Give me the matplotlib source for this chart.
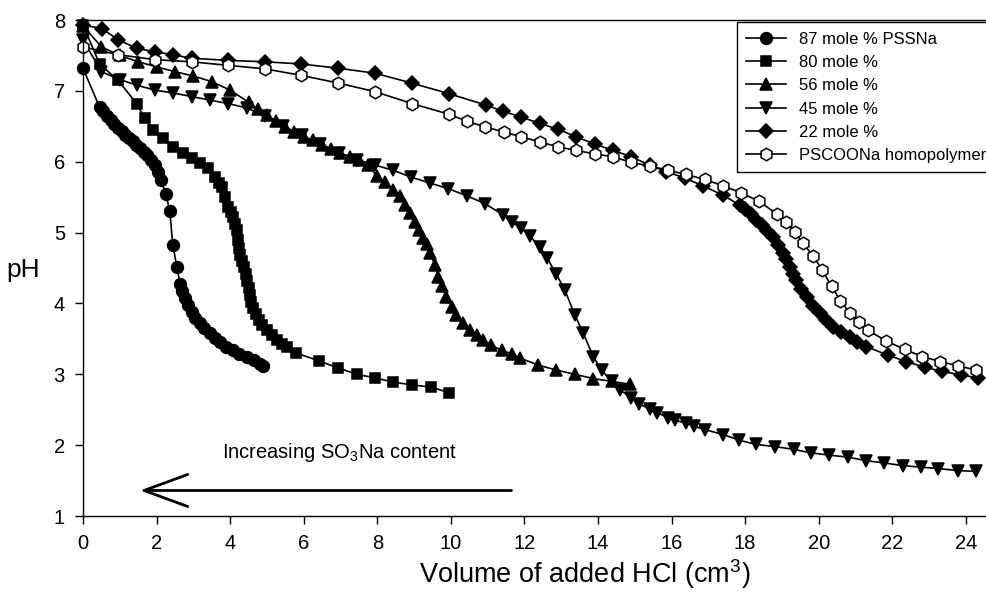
import matplotlib.pyplot as plt

plt.rcParams['font.family'] = ['Liberation Sans', 'DejaVu Sans']
plt.rcParams['mathtext.fontset'] = 'custom'
plt.rcParams['mathtext.rm'] = 'Liberation Sans'
plt.rcParams['mathtext.it'] = 'Liberation Sans:italic'

# 87 mole % PSSNa
x87 = [0, 0.45, 0.55, 0.65, 0.75, 0.85, 0.95, 1.05, 1.15, 1.25, 1.35, 1.45, 1.55, 1.65,
       1.75, 1.85, 1.95, 2.05, 2.12, 2.25, 2.36, 2.44, 2.55, 2.64, 2.7, 2.77, 2.85, 2.95,
       3.05, 3.18, 3.3, 3.45, 3.58, 3.72, 3.9, 4.08, 4.25, 4.45, 4.65, 4.8, 4.9]
y87 = [7.32, 6.77, 6.71, 6.65, 6.59, 6.53, 6.48, 6.43, 6.38, 6.33, 6.29, 6.24, 6.19, 6.14,
       6.09, 6.03, 5.96, 5.86, 5.74, 5.55, 5.30, 4.83, 4.52, 4.27, 4.17, 4.08, 3.98, 3.88,
       3.8, 3.72, 3.65, 3.58, 3.51, 3.45, 3.39, 3.34, 3.29, 3.25, 3.2, 3.15, 3.12]

# 80 mole %
x80 = [0, 0.45, 0.95, 1.46, 1.68, 1.91, 2.18, 2.45, 2.72, 2.95, 3.18, 3.4, 3.59, 3.7,
       3.78, 3.87, 3.95, 4.02, 4.08, 4.14, 4.18, 4.22, 4.24, 4.28, 4.33, 4.38, 4.42, 4.46,
       4.5, 4.54, 4.58, 4.63, 4.7, 4.78, 4.88, 5.0, 5.13, 5.27, 5.4, 5.55, 5.8,
       6.41, 6.93, 7.45, 7.93, 8.43, 8.94, 9.46, 9.95]
y80 = [7.93, 7.38, 7.15, 6.82, 6.61, 6.45, 6.33, 6.21, 6.12, 6.05, 5.98, 5.91, 5.78, 5.7,
       5.64, 5.5, 5.36, 5.29, 5.22, 5.12, 5.03, 4.9, 4.78, 4.68, 4.6, 4.52, 4.42, 4.32,
       4.22, 4.12, 4.02, 3.93, 3.85, 3.77, 3.7, 3.62, 3.55, 3.48, 3.43, 3.38, 3.3,
       3.19, 3.09, 3.0, 2.95, 2.89, 2.85, 2.82, 2.74]

# 56 mole %
x56 = [0, 0.5, 1.0, 1.5, 2.0, 2.5, 3.0, 3.5, 4.0, 4.5, 4.75, 5.0, 5.25, 5.5, 5.75, 6.0,
       6.25, 6.5, 6.75, 7.0, 7.25, 7.5, 7.75, 7.98, 8.2, 8.43, 8.61, 8.75, 8.89, 9.02, 9.14,
       9.25, 9.34, 9.43, 9.57, 9.66, 9.75, 9.88, 10.02, 10.15, 10.33, 10.52, 10.7, 10.88,
       11.1, 11.38, 11.65, 11.88, 12.37, 12.87, 13.37, 13.87, 14.37, 14.86]
y56 = [7.92, 7.62, 7.5, 7.41, 7.34, 7.27, 7.21, 7.13, 7.01, 6.84, 6.74, 6.66, 6.57, 6.49,
       6.42, 6.35, 6.3, 6.24, 6.18, 6.12, 6.07, 6.02, 5.96, 5.8, 5.72, 5.6, 5.51, 5.39, 5.27,
       5.15, 5.03, 4.93, 4.84, 4.71, 4.54, 4.38, 4.24, 4.09, 3.95, 3.84, 3.72, 3.62, 3.55,
       3.48, 3.41, 3.34, 3.29, 3.23, 3.13, 3.06, 3.0, 2.94, 2.9, 2.86]

# 45 mole %
x45 = [0, 0.5, 1.0, 1.46, 1.96, 2.45, 2.95, 3.45, 3.95, 4.45, 4.95, 5.45, 5.95, 6.45,
       6.95, 7.45, 7.95, 8.43, 8.93, 9.43, 9.93, 10.43, 10.92, 11.42, 11.65, 11.92, 12.15,
       12.42, 12.62, 12.87, 13.1, 13.37, 13.6, 13.87, 14.1, 14.37, 14.6, 14.91, 15.12, 15.41,
       15.6, 15.9, 16.1, 16.4, 16.6, 16.9, 17.4, 17.84, 18.3, 18.8, 19.33, 19.8, 20.28, 20.8,
       21.3, 21.77, 22.3, 22.78, 23.25, 23.79, 24.27]
y45 = [7.72, 7.27, 7.16, 7.08, 7.01, 6.97, 6.92, 6.87, 6.82, 6.76, 6.64, 6.5, 6.37, 6.25,
       6.13, 6.03, 5.95, 5.88, 5.78, 5.7, 5.62, 5.52, 5.41, 5.25, 5.15, 5.06, 4.95, 4.8,
       4.64, 4.41, 4.19, 3.84, 3.58, 3.25, 3.06, 2.9, 2.78, 2.67, 2.58, 2.51, 2.46, 2.39,
       2.35, 2.31, 2.27, 2.22, 2.15, 2.07, 2.01, 1.98, 1.94, 1.89, 1.86, 1.83, 1.78, 1.75,
       1.71, 1.69, 1.67, 1.64, 1.63]

# 22 mole %
x22 = [0, 0.51, 0.96, 1.46, 1.96, 2.45, 2.95, 3.95, 4.95, 5.92, 6.93, 7.93, 8.94, 9.95,
       10.95, 11.43, 11.92, 12.42, 12.91, 13.41, 13.91, 14.41, 14.91, 15.41, 15.86, 16.36,
       16.85, 17.39, 17.85, 18.0, 18.15, 18.3, 18.45, 18.6, 18.75, 18.9, 19.03, 19.12, 19.21,
       19.3, 19.39, 19.53, 19.67, 19.85, 20.03, 20.2, 20.39, 20.6, 20.84, 21.05, 21.3, 21.88,
       22.38, 22.88, 23.36, 23.88, 24.32]
y22 = [7.93, 7.88, 7.72, 7.6, 7.55, 7.51, 7.46, 7.43, 7.41, 7.38, 7.32, 7.25, 7.11, 6.96,
       6.8, 6.71, 6.63, 6.54, 6.46, 6.35, 6.25, 6.16, 6.07, 5.95, 5.86, 5.77,
       5.66, 5.53, 5.39, 5.33, 5.26, 5.18, 5.1, 5.02, 4.94, 4.82, 4.71, 4.62, 4.52,
       4.42, 4.33, 4.21, 4.09, 3.97, 3.86, 3.77, 3.67, 3.6, 3.53, 3.46, 3.39, 3.27,
       3.18, 3.1, 3.04, 2.99, 2.95]

# PSCOONa homopolymer
xh = [0, 0.96, 1.96, 2.95, 3.95, 4.95, 5.92, 6.94, 7.93, 8.95, 9.95, 10.44, 10.94, 11.44,
      11.92, 12.42, 12.91, 13.41, 13.91, 14.41, 14.91, 15.41, 15.9, 16.4, 16.9, 17.4, 17.9,
      18.38, 18.87, 19.12, 19.35, 19.57, 19.85, 20.1, 20.35, 20.59, 20.84, 21.1, 21.34,
      21.84, 22.34, 22.82, 23.3, 23.79, 24.28]
yh = [7.62, 7.51, 7.44, 7.41, 7.36, 7.31, 7.22, 7.11, 6.99, 6.82, 6.67, 6.57, 6.49, 6.42,
      6.35, 6.28, 6.21, 6.16, 6.11, 6.07, 5.99, 5.94, 5.88, 5.82, 5.75, 5.66, 5.56,
      5.44, 5.26, 5.15, 5.01, 4.85, 4.67, 4.47, 4.24, 4.04, 3.87, 3.74, 3.62,
      3.47, 3.35, 3.25, 3.18, 3.12, 3.06]

labels = ['87 mole % PSSNa', '80 mole %', '56 mole %', '45 mole %', '22 mole %',
          'PSCOONa homopolymer']

fig = plt.figure(figsize=(9.86, 5.94), dpi=100)
ax = fig.add_axes([83 / 986, 78 / 594, 903 / 986, 496 / 594])

series = [(x87, y87, 'o', 'black', 8.5),
          (x80, y80, 's', 'black', 7.5),
          (x56, y56, '^', 'black', 8.5),
          (x45, y45, 'v', 'black', 8.5),
          (x22, y22, 'D', 'black', 7),
          (xh, yh, 'h', 'white', 9)]

for (xs, ys, m, fc, ms), lab in zip(series, labels):
    ax.plot(xs, ys, color='black', lw=1.2, marker=m, markersize=ms,
            markerfacecolor=fc, markeredgecolor='black', markeredgewidth=1.1,
            label=lab, clip_on=False)

ax.set_xlim(0, 24.55)
ax.set_ylim(1, 8)
ax.set_xticks(range(0, 25, 2))
ax.set_yticks(range(1, 9))
ax.tick_params(direction='out', length=6, width=1, labelsize=14.5, pad=7)
ax.spines['right'].set_visible(False)
for s in ['left', 'bottom', 'top']:
    ax.spines[s].set_linewidth(1)

ax.set_xlabel('Volume of added HCl (cm$^3$)', fontsize=19.5, va='center')
ax.xaxis.set_label_coords(0.556, -0.118)
ax.set_ylabel('pH', fontsize=19, rotation=0, va='center', ha='center')
ax.yaxis.set_label_coords(-0.066, 0.496)

ax.annotate('', xy=(1.55, 1.36), xytext=(11.65, 1.36),
            arrowprops=dict(arrowstyle='->,head_length=1.5,head_width=0.55', lw=2,
                            color='black', mutation_scale=21, shrinkA=0, shrinkB=0))
ax.text(3.78, 1.9, 'Increasing SO$_3$Na content', fontsize=14.5, va='center', ha='left')

leg = ax.legend(loc='upper left', bbox_to_anchor=(0.724, 0.995), fontsize=12,
                frameon=True, fancybox=False, edgecolor='black', framealpha=1,
                labelspacing=0.5, handlelength=2.4, handletextpad=0.8,
                borderpad=0.55, borderaxespad=0)
leg.get_frame().set_linewidth(1)

fig.savefig('out.png', dpi=100)
